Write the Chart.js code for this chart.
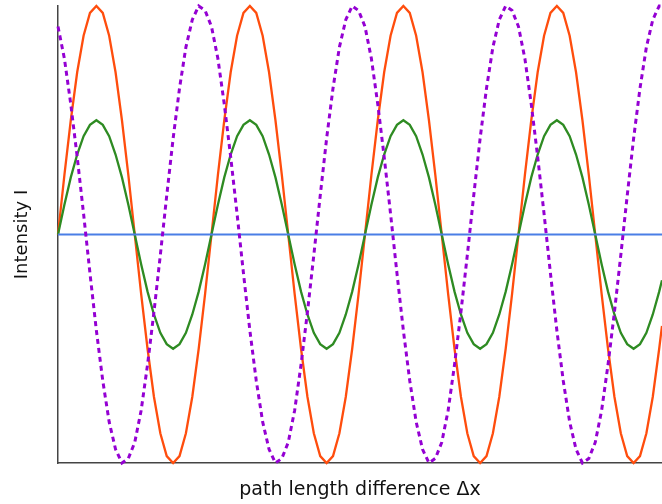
<!DOCTYPE html>
<html>
<head>
<meta charset="utf-8">
<script src="https://cdn.jsdelivr.net/npm/chart.js@4"></script>
<style>
  html, body { margin: 0; padding: 0; background: #fff; }
  #wrap { width: 662px; height: 504px; }
</style>
</head>
<body>
<div id="wrap"><canvas id="myChart" width="662" height="504"></canvas></div>
<script>
// phase of the path length difference, in degrees (one wavelength = 360)
let dx = [
    0, 15, 30, 45, 60, 75, 90, 105, 120, 135, 150, 165, 180, 195, 210, 225, 240, 255, 270, 285, 300, 315, 330, 345,
    360, 375, 390, 405, 420, 435, 450, 465, 480, 495, 510, 525, 540, 555, 570, 585, 600, 615, 630, 645, 660, 675, 690, 705,
    720, 735, 750, 765, 780, 795, 810, 825, 840, 855, 870, 885, 900, 915, 930, 945, 960, 975, 990, 1005, 1020, 1035, 1050, 1065,
    1080, 1095, 1110, 1125, 1140, 1155, 1170, 1185, 1200, 1215, 1230, 1245, 1260, 1275, 1290, 1305, 1320, 1335, 1350, 1365, 1380, 1395, 1410, 1416.6
];

// orange curve, full amplitude
let orange = [
    0, 0.26, 0.5, 0.71, 0.87, 0.97, 1, 0.97, 0.87, 0.71, 0.5, 0.26, 0, -0.26, -0.5, -0.71, -0.87, -0.97, -1, -0.97, -0.87, -0.71, -0.5, -0.26,
    0, 0.26, 0.5, 0.71, 0.87, 0.97, 1, 0.97, 0.87, 0.71, 0.5, 0.26, 0, -0.26, -0.5, -0.71, -0.87, -0.97, -1, -0.97, -0.87, -0.71, -0.5, -0.26,
    0, 0.26, 0.5, 0.71, 0.87, 0.97, 1, 0.97, 0.87, 0.71, 0.5, 0.26, 0, -0.26, -0.5, -0.71, -0.87, -0.97, -1, -0.97, -0.87, -0.71, -0.5, -0.26,
    0, 0.26, 0.5, 0.71, 0.87, 0.97, 1, 0.97, 0.87, 0.71, 0.5, 0.26, 0, -0.26, -0.5, -0.71, -0.87, -0.97, -1, -0.97, -0.87, -0.71, -0.5, -0.4
];

// green curve, half amplitude
let green = [
    0, 0.13, 0.25, 0.35, 0.43, 0.48, 0.5, 0.48, 0.43, 0.35, 0.25, 0.13, 0, -0.13, -0.25, -0.35, -0.43, -0.48, -0.5, -0.48, -0.43, -0.35, -0.25, -0.13,
    0, 0.13, 0.25, 0.35, 0.43, 0.48, 0.5, 0.48, 0.43, 0.35, 0.25, 0.13, 0, -0.13, -0.25, -0.35, -0.43, -0.48, -0.5, -0.48, -0.43, -0.35, -0.25, -0.13,
    0, 0.13, 0.25, 0.35, 0.43, 0.48, 0.5, 0.48, 0.43, 0.35, 0.25, 0.13, 0, -0.13, -0.25, -0.35, -0.43, -0.48, -0.5, -0.48, -0.43, -0.35, -0.25, -0.13,
    0, 0.13, 0.25, 0.35, 0.43, 0.48, 0.5, 0.48, 0.43, 0.35, 0.25, 0.13, 0, -0.13, -0.25, -0.35, -0.43, -0.48, -0.5, -0.48, -0.43, -0.35, -0.25, -0.2
];

// purple dashed curve, shifted in phase
let purple = [
    0.91, 0.77, 0.57, 0.34, 0.09, -0.17, -0.42, -0.64, -0.82, -0.94, -1, -0.98, -0.91, -0.77, -0.57, -0.34, -0.09, 0.17, 0.42, 0.64, 0.82, 0.94, 1, 0.98,
    0.91, 0.77, 0.57, 0.34, 0.09, -0.17, -0.42, -0.64, -0.82, -0.94, -1, -0.98, -0.91, -0.77, -0.57, -0.34, -0.09, 0.17, 0.42, 0.64, 0.82, 0.94, 1, 0.98,
    0.91, 0.77, 0.57, 0.34, 0.09, -0.17, -0.42, -0.64, -0.82, -0.94, -1, -0.98, -0.91, -0.77, -0.57, -0.34, -0.09, 0.17, 0.42, 0.64, 0.82, 0.94, 1, 0.98,
    0.91, 0.77, 0.57, 0.34, 0.09, -0.17, -0.42, -0.64, -0.82, -0.94, -1, -0.98, -0.91, -0.77, -0.57, -0.34, -0.09, 0.17, 0.42, 0.64, 0.82, 0.94, 1, 1
];

// blue flat line at zero
let blueX = [0, 1416.6];
let blue = [0, 0];

function toPoints(xs, ys) {
    return xs.map(function(x, i) { return { x: x, y: ys[i] }; });
}

let ctx = document.getElementById('myChart').getContext('2d');
let myChart = new Chart(ctx, {
    type: 'line',
    data: {
        datasets: [
            {
                label: 'purple',
                data: toPoints(dx, purple),
                borderColor: '#9400d3',
                borderWidth: 3,
                borderDash: [5, 4],
                pointRadius: 0,
                tension: 0
            },
            {
                label: 'blue',
                data: toPoints(blueX, blue),
                borderColor: '#4a7ee6',
                borderWidth: 2,
                pointRadius: 0
            },
            {
                label: 'green',
                data: toPoints(dx, green),
                borderColor: '#2e8b22',
                borderWidth: 2.3,
                pointRadius: 0,
                tension: 0
            },
            {
                label: 'orange',
                data: toPoints(dx, orange),
                borderColor: '#ff4d0d',
                borderWidth: 2.3,
                pointRadius: 0,
                tension: 0
            }
        ]
    },
    options: {
        responsive: false,
        animation: false,
        devicePixelRatio: 1,
        clip: false,
        layout: { padding: { top: 6, right: 0, left: 0, bottom: 0 } },
        plugins: {
            legend: { display: false },
            tooltip: { enabled: false }
        },
        scales: {
            x: {
                type: 'linear',
                min: 0,
                max: 1416.6,
                grid: { display: false, drawTicks: false },
                border: { color: '#444', width: 1.5 },
                ticks: { display: false },
                title: {
                    display: true,
                    text: 'path length difference Δx',
                    color: '#111',
                    font: { family: 'DejaVu Sans', size: 19 },
                    padding: { top: 0, bottom: 3 }
                },
                afterFit: function(scale) { scale.height = 41; }
            },
            y: {
                min: -1,
                max: 1,
                grid: { display: false, drawTicks: false },
                border: { color: '#444', width: 1.5 },
                ticks: { display: false },
                title: {
                    display: true,
                    text: 'Intensity I',
                    color: '#111',
                    font: { family: 'DejaVu Sans', size: 18 },
                    padding: { top: 12, bottom: 0 }
                },
                afterFit: function(scale) { scale.width = 58; }
            }
        }
    }
});
</script>
</body>
</html>
